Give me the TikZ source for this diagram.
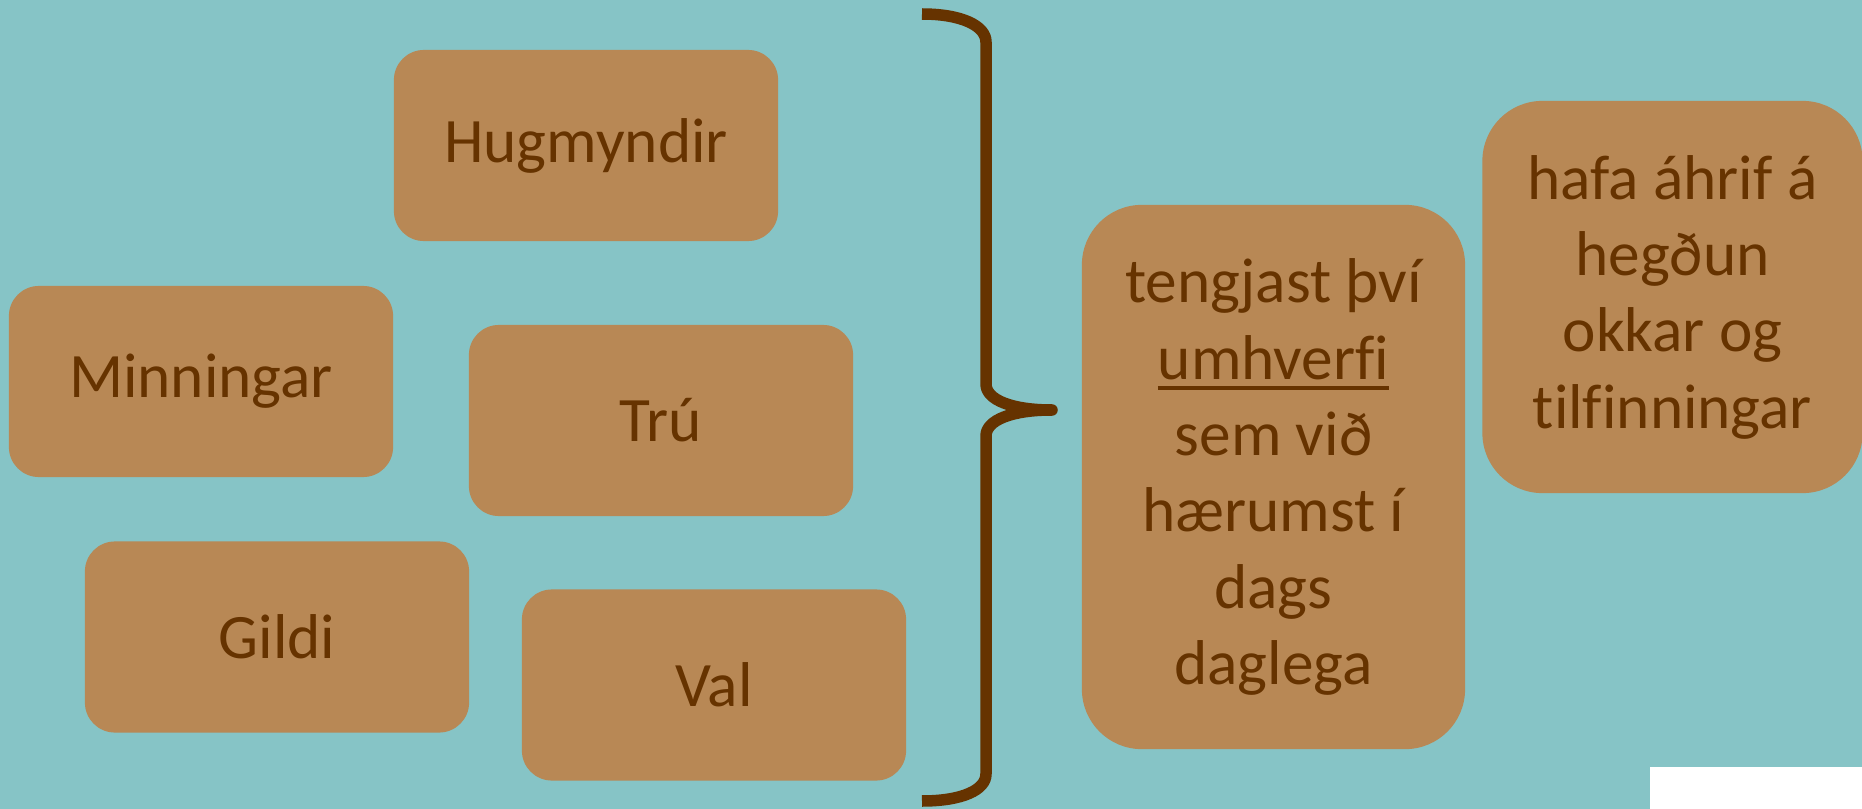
\documentclass[tikz,border=0pt]{standalone}
\usepackage{fontspec}
\setmainfont{Carlito}[Ligatures=NoCommon]
\definecolor{sjor}{HTML}{86C4C6}
\definecolor{leir}{HTML}{B88855}
\definecolor{brunn}{HTML}{663300}
\newcommand\undirstrik[1]{\leavevmode\setbox0\hbox{#1}\rlap{\color{brunn}\rule[-3pt]{\wd0}{1.1pt}}\box0}
\tikzset{
  hugtak/.style={rectangle, rounded corners=0.3cm, fill=leir, text=brunn,
    minimum width=3.84cm, minimum height=1.91cm, inner sep=0pt,
    font=\fontsize{18}{21.7}\selectfont},
  stortak/.style={hugtak, rounded corners=0.6cm, align=center},
}

\begin{document}
\begin{tikzpicture}[x=0.01cm,y=-0.01cm]
        \fill[sjor] (0,0) rectangle (1862,809);
        \useasboundingbox (0,0) rectangle (1862,809);
        % vinstri hlid
        \node[hugtak] (hugmyndir) at (586,145.5) {Hugmyndir};
        \node[hugtak] (minningar) at (201,381.5) {Minningar};
        \node[hugtak] (tru) at (661,420.5) {Trú};
        \node[hugtak] (gildi) at (277,637) {Gildi};
        \node[hugtak] (val) at (714,685) {Val};
        % slaufusvigi
        \draw[brunn, line width=0.115cm, line join=round]
          (922,14) .. controls (962,14) and (986,26) .. (986,42) -- (986,384)
          .. controls (986,400) and (1012,410) .. (1052,410)
          .. controls (1012,410) and (986,420) .. (986,436) -- (986,774)
          .. controls (986,790) and (962,801) .. (922,801);
        % haegri hlid
        \node[stortak, minimum width=3.83cm, minimum height=5.44cm] (umhverfi) at (1273.5,477)
          {tengjast því\\\undirstrik{umhverfi}\\sem við\\hærumst í\\dags\\daglega};
        \node[stortak, minimum width=3.80cm, minimum height=3.92cm] (ahrif) at (1672.5,297)
          {hafa áhrif á\\hegðun\\okkar og\\tilfinningar};
        \fill[white] (1650,767) rectangle (1862,809);
\end{tikzpicture}
\end{document}
